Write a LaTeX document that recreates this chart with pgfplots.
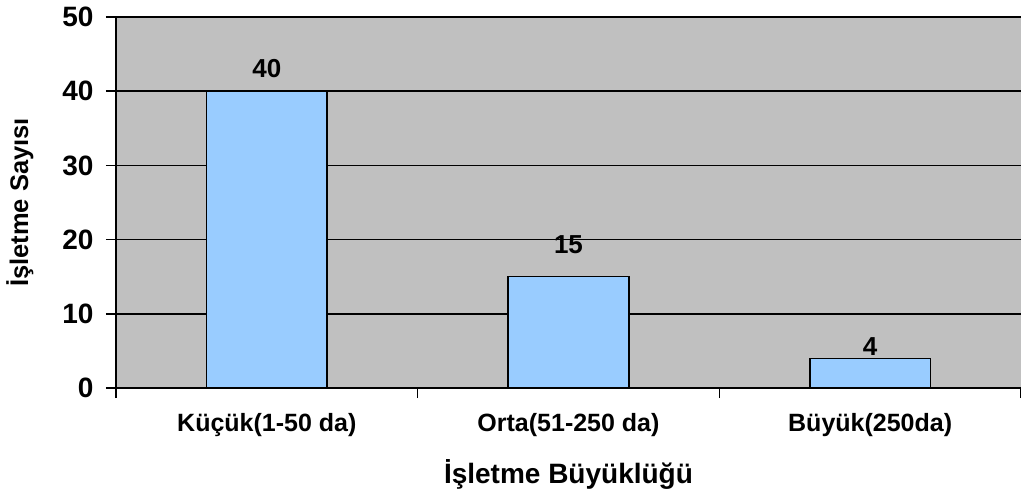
\documentclass[border=0pt]{standalone}
\usepackage{pgfplots}
\usepackage{pgfplotstable}
\pgfplotsset{compat=1.18}
\usepackage{fontspec}
\setmainfont{Liberation Sans}
\definecolor{plotbg}{HTML}{C0C0C0}
\definecolor{barblue}{HTML}{99CCFF}
\definecolor{topline}{HTML}{808080}
\pgfplotstableread{
x y off
0.5 40 13
1.5 15 22
2.5 4 2
}\datatable
\begin{document}
\begin{tikzpicture}
\path[use as bounding box] (-116pt,-113pt) rectangle (905pt,388pt);
\begin{axis}[
  scale only axis, width=905pt, height=371pt,
  anchor=south west, at={(0,0)},
  xmin=0, xmax=3, ymin=0, ymax=50,
  axis lines=left,
  axis line style={-, black, line width=1.5pt},
  axis background/.style={fill=plotbg},
  ybar, bar width=0.4,
  ytick={0,10,20,30,40},
  extra y ticks={50},
  extra y tick style={grid style={topline, line width=1.5pt}},
  ymajorgrids,
  major grid style={black, line width=1.5pt},
  xtick={0,1,2,3}, xticklabels={},
  extra x ticks={0.5,1.5,2.5},
  extra x tick labels={Küçük(1-50 da),Orta(51-250 da),Büyük(250da)},
  extra x tick style={major tick length=0pt, xmajorgrids=false,
     xticklabel style={font=\fontsize{25}{25}\selectfont\bfseries, yshift=-22pt}},
  tick align=outside, major tick length=10pt,
  tick style={black, line width=1.5pt},
  /pgf/number format/assume math mode=true,
  yticklabel style={font=\fontsize{28}{28}\selectfont\bfseries, xshift=-9pt},
  xlabel={İşletme Büyüklüğü},
  xlabel style={font=\fontsize{28}{28}\selectfont\bfseries, at={(axis description cs:0.5,0)}, anchor=base, yshift=-95pt},
  ylabel={İşletme Sayısı},
  ylabel style={font=\fontsize{25.5}{25.5}\selectfont\bfseries, at={(axis description cs:-0.0972,0.5)}, anchor=base},
  nodes near coords,
  visualization depends on={\thisrow{off} \as \myoff},
  every node near coord/.append style={font=\fontsize{26}{26}\selectfont\bfseries, inner sep=0pt, anchor=south, yshift=\myoff pt},
]
\addplot[fill=barblue, draw=black, line width=1.5pt] table[x=x, y=y] {\datatable};
\end{axis}
\end{tikzpicture}
\end{document}
